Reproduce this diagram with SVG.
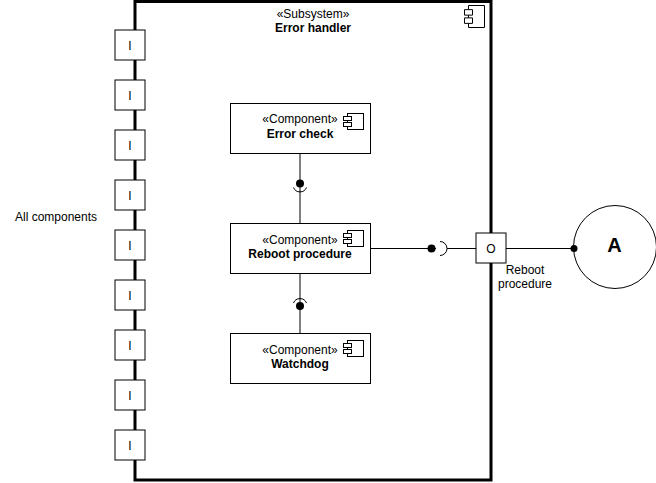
<svg xmlns="http://www.w3.org/2000/svg" width="656" height="483" viewBox="0 0 656 483">
<style>
text{font-family:"Liberation Sans",Arial,sans-serif;font-size:12px;fill:#000;text-anchor:middle}
.b{font-weight:bold}
.box{fill:#fff;stroke:#000;stroke-width:1}
.port{fill:#fff;stroke:#000;stroke-width:1}
.ln{stroke:#000;stroke-width:1;fill:none}
.icon{fill:#fff;stroke:#000;stroke-width:1}
</style>
<defs>
<g id="cicon">
<rect class="icon" x="4" y="0" width="16" height="16"/>
<rect class="icon" x="0" y="3" width="8" height="4"/>
<rect class="icon" x="0" y="9" width="8" height="4"/>
</g>
</defs>
<rect x="0" y="0" width="656" height="483" fill="#fff"/>
<g id="subsystem">
<rect x="135" y="1.5" width="356" height="478.5" fill="#fff" stroke="#000" stroke-width="3"/>
<g transform="translate(464.5,5.5) scale(1,1.375)"><rect class="icon" x="4" y="0" width="16" height="16" vector-effect="non-scaling-stroke"/><rect class="icon" x="0" y="3" width="8" height="4" vector-effect="non-scaling-stroke"/><rect class="icon" x="0" y="9" width="8" height="4" vector-effect="non-scaling-stroke"/></g>
<text x="313" y="18">«Subsystem»</text>
<text x="313" y="32" class="b">Error handler</text>
</g>
<g id="connectors">
<line class="ln" x1="300" y1="153.5" x2="300" y2="223.5"/>
<circle cx="300" cy="183.5" r="4" fill="#000"/>
<path class="ln" d="M293.5,187.5 A7,7 0 0,0 306.5,187.5" fill="#fff"/>
<line class="ln" x1="300" y1="273.5" x2="300" y2="333.5"/>
<path class="ln" d="M293.5,303 A7,7 0 0,1 306.5,303" fill="#fff"/>
<circle cx="300" cy="306" r="4" fill="#000"/>
<line class="ln" x1="370.5" y1="248.5" x2="476" y2="248.5"/>
<circle cx="431.5" cy="248.5" r="4" fill="#000"/>
<line x1="436" y1="248.5" x2="440" y2="248.5" stroke="#fff" stroke-width="2"/>
<path d="M440,241.5 A7,7 0 0,1 440,255.5" fill="#fff" stroke="#000"/>
<line class="ln" x1="506" y1="248.5" x2="574" y2="248.5"/>
</g>
<g id="ports">
<g id="p1"><rect class="port" x="115" y="30" width="30" height="30"/><text x="130" y="50">I</text></g>
<g id="p2"><rect class="port" x="115" y="80" width="30" height="30"/><text x="130" y="100">I</text></g>
<g id="p3"><rect class="port" x="115" y="130" width="30" height="30"/><text x="130" y="150">I</text></g>
<g id="p4"><rect class="port" x="115" y="180" width="30" height="30"/><text x="130" y="200">I</text></g>
<g id="p5"><rect class="port" x="115" y="230" width="30" height="30"/><text x="130" y="250">I</text></g>
<g id="p6"><rect class="port" x="115" y="280" width="30" height="30"/><text x="130" y="300">I</text></g>
<g id="p7"><rect class="port" x="115" y="330" width="30" height="30"/><text x="130" y="350">I</text></g>
<g id="p8"><rect class="port" x="115" y="380" width="30" height="30"/><text x="130" y="400">I</text></g>
<g id="p9"><rect class="port" x="115" y="430" width="30" height="30"/><text x="130" y="450">I</text></g>
<g id="pout"><rect class="port" x="476" y="233" width="30" height="30"/><text x="491" y="253">O</text></g>
</g>
<g id="error-check">
<rect class="box" x="230.5" y="103.5" width="140" height="50"/>
<use href="#cicon" x="343.5" y="113.5"/>
<text x="300" y="123">«Component»</text>
<text x="300" y="138" class="b">Error check</text>
</g>
<g id="reboot-procedure">
<rect class="box" x="230.5" y="223.5" width="140" height="50"/>
<use href="#cicon" x="343.5" y="230.5"/>
<text x="300" y="244">«Component»</text>
<text x="300" y="258" class="b">Reboot procedure</text>
</g>
<g id="watchdog">
<rect class="box" x="230.5" y="333.5" width="140" height="50"/>
<use href="#cicon" x="343.5" y="340.5"/>
<text x="300" y="354">«Component»</text>
<text x="300" y="368" class="b">Watchdog</text>
</g>
<g id="actor-a">
<circle cx="615" cy="247" r="41.5" fill="#fff" stroke="#000"/>
<circle cx="574" cy="248.5" r="3.5" fill="#000"/>
<text x="614.5" y="252" class="b" style="font-size:20px">A</text>
</g>
<g id="labels">
<text x="525" y="274">Reboot</text>
<text x="525" y="288">procedure</text>
<text x="56" y="221">All components</text>
</g>
</svg>
